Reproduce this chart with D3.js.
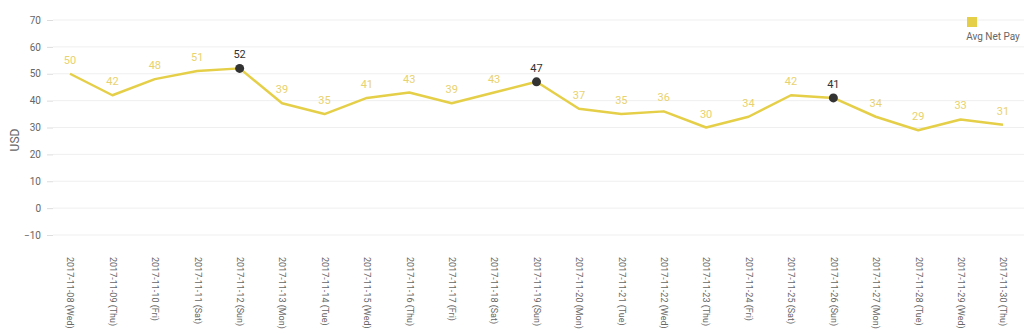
<!DOCTYPE html>
<html><head><meta charset="utf-8">
<script src="https://cdn.jsdelivr.net/npm/d3@7"></script>
<style>body{margin:0;background:#fff;font-family:Roboto,"Open Sans",sans-serif;}</style>
</head><body>
<svg id="c" width="1024" height="333"></svg>
<script>
const dates = ["2017-11-08 (Wed)","2017-11-09 (Thu)","2017-11-10 (Fri)","2017-11-11 (Sat)","2017-11-12 (Sun)","2017-11-13 (Mon)","2017-11-14 (Tue)","2017-11-15 (Wed)","2017-11-16 (Thu)","2017-11-17 (Fri)","2017-11-18 (Sat)","2017-11-19 (Sun)","2017-11-20 (Mon)","2017-11-21 (Tue)","2017-11-22 (Wed)","2017-11-23 (Thu)","2017-11-24 (Fri)","2017-11-25 (Sat)","2017-11-26 (Sun)","2017-11-27 (Mon)","2017-11-28 (Tue)","2017-11-29 (Wed)","2017-11-30 (Thu)"];
const avgNetPay = [50,42,48,51,52,39,35,41,43,39,43,47,37,35,36,30,34,42,41,34,29,33,31];
const yTicks = [-10,0,10,20,30,40,50,60,70];
const seriesName = "Avg Net Pay";

const svg = d3.select("#c");
const lineColor = "#e5cf48", labelColor = "#e8d26e", dark = "#333";
const x = d3.scalePoint().domain(dates).range([70, 1003]);
const y = d3.scaleLinear().domain([-10, 70]).range([235, 20]);

// gridlines
svg.append("g").selectAll("line").data(yTicks).join("line")
  .attr("x1", 53).attr("x2", 1024).attr("y1", d => y(d)).attr("y2", d => y(d))
  .attr("stroke", "#efefef").attr("stroke-width", 1);

// y axis
const ya = svg.append("g").attr("transform", "translate(53,0)")
  .call(d3.axisLeft(y).tickValues(yTicks).tickSize(6).tickPadding(6));
ya.select(".domain").remove();
ya.selectAll(".tick line").attr("stroke", "#ddd");
ya.selectAll(".tick text").attr("fill", "#666").style("font-size", "10px").style("font-family", "Roboto");

svg.append("text").attr("transform", "translate(19,140) rotate(-90)")
  .attr("text-anchor", "middle").attr("fill", "#666").style("font-size", "12px").text("USD");

// x axis labels
const xa = svg.append("g").attr("transform", "translate(0,235)")
  .call(d3.axisBottom(x).tickSize(0).tickPadding(0));
xa.select(".domain").remove();
xa.selectAll(".tick text")
  .attr("transform", "translate(0,22) rotate(90)")
  .attr("x", 0).attr("y", 0).attr("dy", "0.35em")
  .attr("text-anchor", "start").attr("fill", "#666")
  .style("font-size", "9px").style("font-family", "Roboto");

// line
const data = dates.map((d, i) => ({d, v: avgNetPay[i]}));
svg.append("path").datum(data)
  .attr("fill", "none").attr("stroke", lineColor).attr("stroke-width", 2.5)
  .attr("stroke-linejoin", "round")
  .attr("d", d3.line().x(p => x(p.d)).y(p => y(p.v)));

const isSun = p => p.d.includes("Sun");
svg.append("g").selectAll("circle").data(data.filter(isSun)).join("circle")
  .attr("cx", p => x(p.d)).attr("cy", p => y(p.v)).attr("r", 4.5).attr("fill", dark);

svg.append("g").selectAll("text").data(data).join("text")
  .attr("x", p => x(p.d)).attr("y", p => y(p.v) - 10)
  .attr("text-anchor", "middle")
  .attr("fill", p => isSun(p) ? dark : labelColor)
  .style("font-size", "11px").text(p => p.v);

// legend
svg.append("rect").attr("x", 967).attr("y", 17).attr("width", 10).attr("height", 10).attr("fill", lineColor);
svg.append("text").attr("x", 993).attr("y", 40).attr("text-anchor", "middle")
  .attr("fill", "#666").style("font-size", "10px").text(seriesName);
</script>
</body></html>
